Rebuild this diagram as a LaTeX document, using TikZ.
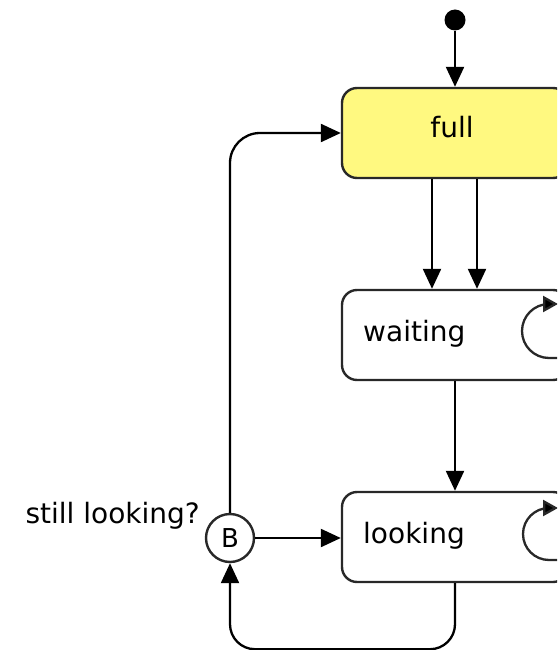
\documentclass[tikz,border=0pt]{standalone}
\usepackage{fontspec}
\setmainfont{DejaVu Sans}
\usetikzlibrary{arrows.meta}
\definecolor{fullfill}{RGB}{255,249,128}
\definecolor{boxline}{RGB}{40,40,40}
\begin{document}
\begin{tikzpicture}[x=1pt,y=-1pt,
  state/.style={draw=boxline,line width=2.4pt,rounded corners=15pt,
    minimum height=90pt,minimum width=226pt,inner sep=0pt,fill=white},
  lbl/.style={font=\fontsize{28}{34}\selectfont,inner sep=0pt,text=black},
  conn/.style={line width=2.3pt,-{Triangle[length=20pt,width=18pt]}},
  loopicon/.style={line width=2.3pt,draw=boxline,-{Triangle[length=15pt,width=16pt,fill=black]}},
]
\useasboundingbox (0,0) rectangle (557,650);
\clip (0,0) rectangle (557,650);

% states
\node[state,fill=fullfill] (full) at (455,133) {};
\node[state] (waiting) at (455,335) {};
\node[state] (looking) at (455,537) {};

% state names
\node[lbl,anchor=base] (fulltxt) at (452,138) {full};
\node[lbl,anchor=base west] (waitingtxt) at (363,341) {waiting};
\node[lbl,anchor=base west] (lookingtxt) at (363,543) {looking};

% initial pseudo-state
\node[circle,fill=black,minimum size=21pt,inner sep=0pt] (init) at (455,20) {};

% branch point
\node[circle,draw=boxline,line width=2.4pt,fill=white,minimum size=48pt,
  inner sep=0pt,font=\fontsize{26}{30}\selectfont] (B) at (230,538) {B};
\node[lbl,anchor=base east] (cond) at (200,523) {still looking?};

% transitions
\draw[conn] (init) -- (full.north);
\draw[conn] ([xshift=-23pt]full.south) -- ([xshift=-23pt]waiting.north);
\draw[conn] ([xshift=22pt]full.south) -- ([xshift=22pt]waiting.north);
\draw[conn] (waiting.south) -- (looking.north);
\draw[conn] (B.east) -- (B -| looking.west);
\draw[conn,rounded corners=30pt] (B.north) -- (B.north |- full.west) -- (full.west);
\draw[conn,rounded corners=25pt] (looking.south) -- ++(0,66) -| (B.south);

% internal activity icons
\draw[loopicon] (562,358) -- (549,358) arc[start angle=-90,end angle=-270,radius=27pt] -- (558,304);
\draw[loopicon] (562,560) -- (549,560) arc[start angle=-90,end angle=-270,radius=26pt] -- (558,508);
\end{tikzpicture}
\end{document}
